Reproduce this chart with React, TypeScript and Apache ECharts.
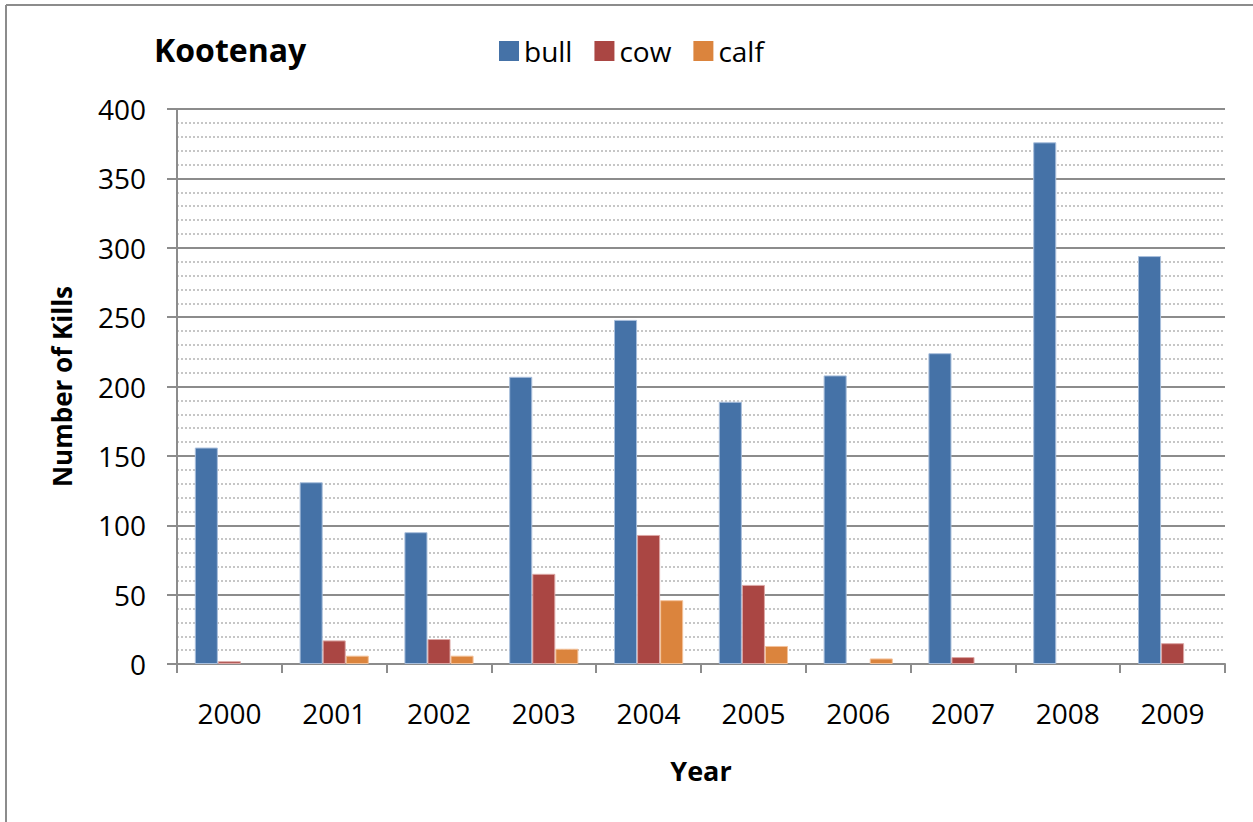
import React, { useEffect, useRef } from "react";
import * as echarts from "echarts";

const years = ["2000", "2001", "2002", "2003", "2004", "2005", "2006", "2007", "2008", "2009"];
const bull = [156, 131, 95, 207, 248, 189, 208, 224, 376, 294];
const cow = [2, 17, 18, 65, 93, 57, 0, 5, 0, 15];
const calf = [0, 6, 6, 11, 46, 13, 4, 0, 0, 0];

const FONT = "Open Sans";

export default function App() {
  const ref = useRef<HTMLDivElement>(null);
  useEffect(() => {
    if (!ref.current) return;
    const chart = echarts.init(ref.current, undefined, { renderer: "svg" });
    const gray = "#8c8c8c";
    const mk = (name: string, data: number[], color: string, border: string) => ({
      name,
      type: "bar",
      data: data.map((v) => (v === 0 ? { value: v, itemStyle: { borderWidth: 0 } } : v)),
      barGap: "0%",
      barCategoryGap: "34%",
      itemStyle: { color, borderColor: border, borderWidth: 1 },
    });
    chart.setOption({
      animation: false,
      backgroundColor: "#ffffff",
      textStyle: { fontFamily: FONT },
      title: {
        text: "Kootenay",
        left: 149,
        top: 28,
        textStyle: { fontFamily: FONT, fontWeight: "bold", fontSize: 32, color: "#000" },
      },
      legend: {
        left: 494,
        top: 32,
        itemWidth: 20,
        itemHeight: 20,
        itemGap: 22,
        icon: "rect",
        itemStyle: { borderWidth: 0 },
        textStyle: { fontFamily: FONT, fontSize: 28, color: "#000", padding: [0, 0, 0, 0] },
        data: ["bull", "cow", "calf"],
      },
      grid: { left: 177, right: 28, top: 109, bottom: 158, containLabel: false },
      xAxis: {
        type: "category",
        data: years,
        boundaryGap: true,
        name: "Year",
        nameLocation: "middle",
        nameGap: 93,
        nameTextStyle: { fontFamily: FONT, fontWeight: "bold", fontSize: 27, color: "#000" },
        axisLine: { show: true, lineStyle: { color: gray, width: 2 } },
        axisTick: { show: true, alignWithLabel: false, length: 9, lineStyle: { color: gray, width: 2 } },
        axisLabel: { margin: 35, fontFamily: FONT, fontSize: 28, color: "#000" },
        splitLine: { show: false },
      },
      yAxis: {
        type: "value",
        min: 0,
        max: 400,
        interval: 50,
        name: "Number of Kills",
        nameLocation: "middle",
        nameGap: 102,
        nameRotate: 90,
        nameTextStyle: { fontFamily: FONT, fontWeight: "bold", fontSize: 26, color: "#000" },
        axisLine: { show: true, lineStyle: { color: gray, width: 2 } },
        axisTick: { show: true, length: 10, lineStyle: { color: gray, width: 2 } },
        axisLabel: { margin: 31, fontFamily: FONT, fontSize: 28, color: "#000" },
        splitLine: { show: true, lineStyle: { color: gray, width: 2 } },
        minorTick: { show: false, splitNumber: 5 },
        minorSplitLine: { show: true, lineStyle: { color: "#b4b4b4", width: 1.5, type: [2, 2] } },
      },
      graphic: [
        { type: "line", shape: { x1: 6, y1: 5, x2: 6, y2: 822 }, style: { stroke: gray, lineWidth: 2 } },
        { type: "line", shape: { x1: 6, y1: 5, x2: 1253, y2: 5 }, style: { stroke: gray, lineWidth: 2 } },
      ],
      series: [
        mk("bull", bull, "#4572A7", "#a9bfdc"),
        mk("cow", cow, "#AA4643", "#dca7a5"),
        mk("calf", calf, "#DB843D", "#f3c29b"),
      ],
    });
    return () => chart.dispose();
  }, []);
  return (
    <div
      ref={ref}
      style={{ position: "fixed", left: 0, top: 0, width: 1253, height: 822, background: "#fff" }}
    />
  );
}
